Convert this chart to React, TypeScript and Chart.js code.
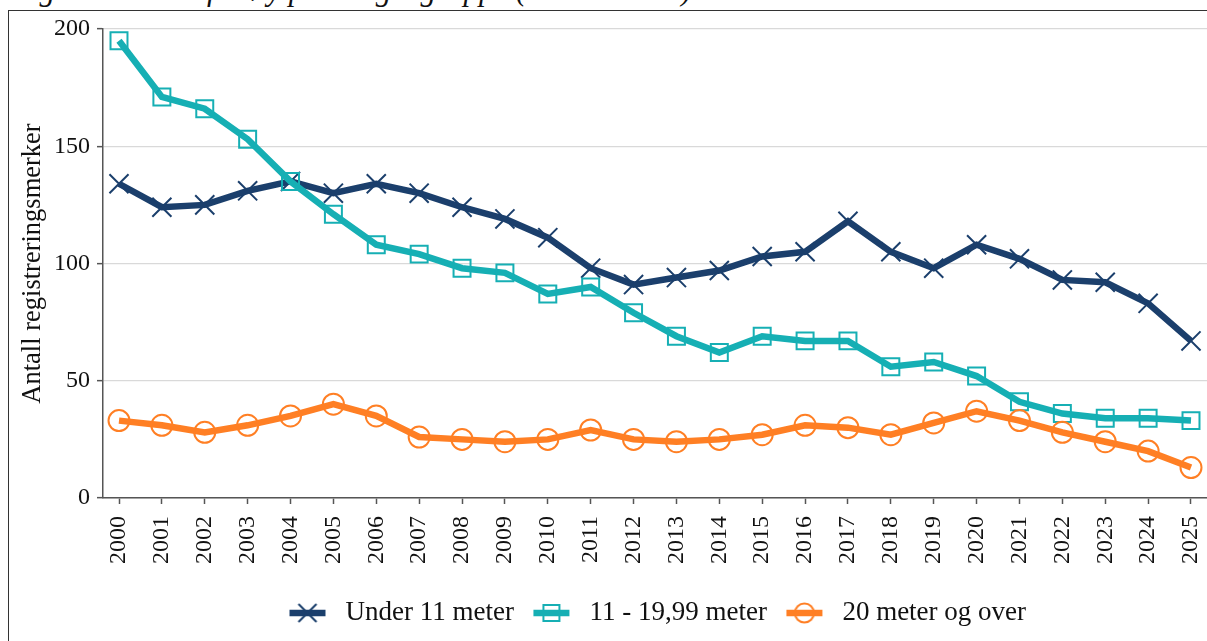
import React, { useEffect, useRef } from "react";
import { Chart, registerables } from "chart.js";

Chart.register(...registerables);

const years = [2000, 2001, 2002, 2003, 2004, 2005, 2006, 2007, 2008, 2009, 2010, 2011, 2012, 2013, 2014, 2015, 2016, 2017, 2018, 2019, 2020, 2021, 2022, 2023, 2024, 2025];
const under11 = [134, 124, 125, 131, 135, 130, 134, 130, 124, 119, 111, 98, 91, 94, 97, 103, 105, 118, 105, 98, 108, 102, 93, 92, 83, 67];
const mid11to20 = [195, 171, 166, 153, 135, 121, 108, 104, 98, 96, 87, 90, 79, 69, 62, 69, 67, 67, 56, 58, 52, 41, 36, 34, 34, 33];
const over20 = [33, 31, 28, 31, 35, 40, 35, 26, 25, 24, 25, 29, 25, 24, 25, 27, 31, 30, 27, 32, 37, 33, 28, 24, 20, 13];
const seriesLabels = ["Under 11 meter", "11 - 19,99 meter", "20 meter og over"];
const yTicks = [0, 50, 100, 150, 200];
const yTitle = "Antall registreringsmerker";
const figTitle = "Figur 1: Antall fartøy per lengdegruppe (2000 – 2025)";

const NAVY = "#1b3f6c";
const TEAL = "#16afb4";
const ORANGE = "#ff7f24";
const FONT = "'Liberation Serif', 'Times New Roman', serif";

const CW = 1197;
const CH = 629;
const AREA = { left: 93, top: 17, right: 1197, bottom: 486 };
const LEG_FONT = 27;
const LEG_PAD = 13;

function legendIcon(kind: string, color: string): HTMLCanvasElement {
  const c = document.createElement("canvas");
  c.width = 40;
  c.height = 28;
  const ctx = c.getContext("2d")!;
  const cy = 14;
  ctx.strokeStyle = color;
  ctx.lineWidth = 6.5;
  ctx.beginPath();
  ctx.moveTo(2, cy);
  ctx.lineTo(38, cy);
  ctx.stroke();
  ctx.lineWidth = 2;
  ctx.beginPath();
  if (kind === "x") {
    ctx.moveTo(11, cy - 9);
    ctx.lineTo(29, cy + 9);
    ctx.moveTo(29, cy - 9);
    ctx.lineTo(11, cy + 9);
  } else if (kind === "sq") {
    ctx.rect(12, cy - 8, 16, 16);
  } else {
    ctx.arc(20, cy, 9.5, 0, Math.PI * 2);
  }
  ctx.stroke();
  return c;
}

export default function App() {
  const ref = useRef<HTMLCanvasElement | null>(null);

  useEffect(() => {
    if (!ref.current) return;
    const toPts = (arr: number[]) => years.map((yr, i) => ({ x: yr, y: arr[i] }));
    const icons = [legendIcon("x", NAVY), legendIcon("sq", TEAL), legendIcon("o", ORANGE)];

    const areaFixer = {
      id: "areaFixer",
      afterLayout(chart: any) {
        const ca = chart.chartArea;
        ca.left = AREA.left;
        ca.right = AREA.right;
        ca.top = AREA.top;
        ca.bottom = AREA.bottom;
        ca.width = AREA.right - AREA.left;
        ca.height = AREA.bottom - AREA.top;
        const xs = chart.scales.x;
        xs.left = AREA.left;
        xs.right = AREA.right;
        xs.width = AREA.right - AREA.left;
        xs.configure();
        const ys = chart.scales.y;
        ys.top = AREA.top;
        ys.bottom = AREA.bottom;
        ys.height = AREA.bottom - AREA.top;
        ys.configure();
      },
      beforeDraw(chart: any) {
        const lg = chart.legend;
        if (!lg || !lg.lineWidths) return;
        lg.right = CW;
        lg.left = 2 * 273 - LEG_PAD - lg.right + lg.lineWidths[0];
        lg.top = 601 - LEG_PAD - LEG_FONT / 2;
      },
    };

    const mkDs = (label: string, arr: number[], color: string, style: string, radius: number, order: number) => ({
      label,
      data: toPts(arr),
      borderColor: color,
      borderWidth: 6.5,
      pointStyle: style,
      pointRadius: radius,
      pointBorderWidth: 2,
      pointBorderColor: color,
      pointBackgroundColor: "rgba(0,0,0,0)",
      tension: 0,
      order,
    });

    const chart = new Chart(ref.current, {
      type: "line",
      data: {
        datasets: [
          mkDs(seriesLabels[0], under11, NAVY, "crossRot", 13.5, 2),
          mkDs(seriesLabels[1], mid11to20, TEAL, "rect", 12, 1),
          mkDs(seriesLabels[2], over20, ORANGE, "circle", 10.5, 0),
        ],
      },
      options: {
        responsive: false,
        animation: false,
        devicePixelRatio: 1,
        layout: { padding: { top: 17, left: 0, right: 0, bottom: 0 } },
        plugins: {
          tooltip: { enabled: false },
          legend: {
            display: true,
            position: "bottom",
            align: "center",
            labels: {
              usePointStyle: true,
              pointStyleWidth: 49,
              padding: LEG_PAD,
              color: "#111",
              font: { family: FONT, size: LEG_FONT },
              generateLabels: (ch: any) =>
                ch.data.datasets.map((ds: any, i: number) => ({
                  text: ds.label,
                  pointStyle: icons[i],
                  fillStyle: "rgba(0,0,0,0)",
                  strokeStyle: "rgba(0,0,0,0)",
                  lineWidth: 0,
                  hidden: false,
                  datasetIndex: i,
                  fontColor: "#111",
                })),
            },
          },
        },
        scales: {
          x: {
            type: "linear",
            min: 2000 - 16 / 42.88,
            max: 2025 + 16 / 42.88,
            afterBuildTicks: (axis: any) => {
              axis.ticks = years.map((v) => ({ value: v }));
            },
            afterFit: (scale: any) => {
              const lg = scale.chart.legend;
              scale.height = CH - AREA.bottom - (lg ? lg.height : 0);
            },
            grid: {
              drawOnChartArea: false,
              drawTicks: true,
              tickLength: 6,
              tickColor: "#555",
              tickWidth: 1.5,
            },
            border: { display: true, color: "#555", width: 1.5 },
            ticks: {
              autoSkip: false,
              minRotation: 90,
              maxRotation: 90,
              padding: 12,
              color: "#111",
              font: { family: FONT, size: 24 },
              callback: (v: any) => String(v),
            },
          },
          y: {
            min: 0,
            max: 200,
            afterBuildTicks: (axis: any) => {
              axis.ticks = yTicks.map((v) => ({ value: v }));
            },
            afterFit: (scale: any) => {
              scale.width = AREA.left;
            },
            grid: {
              color: "#d9d9d9",
              lineWidth: 1.3,
              drawTicks: true,
              tickLength: 6,
              tickColor: "#555",
              tickWidth: 1.5,
            },
            border: { display: true, color: "#555", width: 1.5 },
            ticks: {
              padding: 7,
              color: "#111",
              font: { family: FONT, size: 24 },
            },
            title: {
              display: true,
              text: yTitle,
              color: "#111",
              font: { family: FONT, size: 26.5 },
              padding: { top: 7, bottom: 0 },
            },
          },
        },
      },
      plugins: [areaFixer],
    } as any);

    return () => chart.destroy();
  }, []);

  return (
    <div style={{ position: "absolute", left: 0, top: 0, width: 1207, height: 641, overflow: "hidden", background: "#fff" }}>
      <div
        style={{
          position: "absolute",
          left: 12,
          top: -26,
          fontFamily: FONT,
          fontStyle: "italic",
          fontSize: 31,
          lineHeight: "31px",
          whiteSpace: "nowrap",
          color: "#111",
        }}
      >
        {figTitle}
      </div>
      <div
        style={{
          position: "absolute",
          left: 8,
          top: 9.5,
          width: 1220,
          height: 660,
          borderTop: "1.5px solid #333",
          borderLeft: "1.5px solid #333",
        }}
      />
      <canvas
        ref={ref}
        width={CW}
        height={CH}
        style={{ position: "absolute", left: 10, top: 12, width: CW, height: CH }}
      />
    </div>
  );
}
